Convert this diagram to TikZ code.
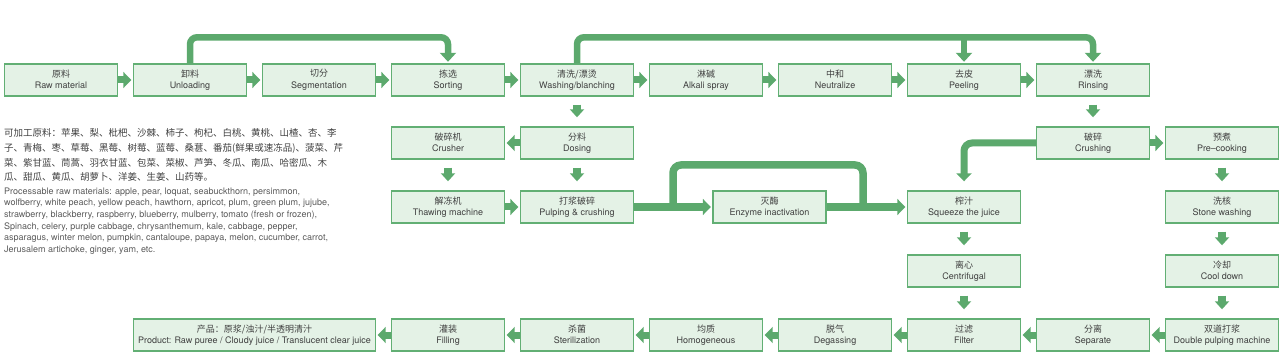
\documentclass[tikz,border=0pt]{standalone}
\usepackage{fontspec}
\setmainfont{TeX Gyre Heros}
\newfontfamily\cjk{Noto Sans CJK SC}
\usetikzlibrary{arrows.meta}
\definecolor{boxfill}{HTML}{E4F2E6}
\definecolor{boxline}{HTML}{62AF74}
\definecolor{arrowgreen}{HTML}{5CA96D}
\definecolor{txtdark}{HTML}{404040}
\definecolor{txtgray}{HTML}{5A5A5A}
\newcommand{\bx}[2]{{\cjk #1}\\{#2\vphantom{gh}}}
\tikzset{
  stepbox/.style={draw=boxline, fill=boxfill, line width=1.4pt, minimum width=113pt, minimum height=32pt,
    inner sep=0pt, align=center, text=txtdark, font=\fontsize{9}{11.5}\selectfont},
  rarrow/.style={draw=arrowgreen, line width=7pt, -{Triangle[width=16pt,length=8pt]}, shorten >=1.5pt},
  darrow/.style={draw=arrowgreen, line width=7.5pt, -{Triangle[width=14pt,length=8pt]}, shorten <=8pt, shorten >=9pt},
  topconn/.style={draw=arrowgreen, line width=6.5pt, rounded corners=7pt, -{Triangle[width=16pt,length=9pt]}},
  pipe/.style={draw=arrowgreen, line width=7.5pt},
  paracn/.style={anchor=base west, inner sep=0pt, text=txtdark, font=\cjk\fontsize{9.5}{12}\selectfont},
  paraen/.style={anchor=base west, inner sep=0pt, text=txtgray, font=\fontsize{9}{11}\selectfont},
}
\begin{document}
\begin{tikzpicture}[x=1pt,y=-1pt]
\path[use as bounding box] (0,0) rectangle (1284,355);
% row 1
\node[stepbox] (raw) at (61,80) {\bx{原料}{Raw material}};
\node[stepbox] (unload) at (190,80) {\bx{卸料}{Unloading}};
\node[stepbox] (seg) at (319,80) {\bx{切分}{Segmentation}};
\node[stepbox] (sort) at (448,80) {\bx{拣选}{Sorting}};
\node[stepbox] (wash) at (577,80) {\bx{清洗/漂烫}{Washing/blanching}};
\node[stepbox] (alkali) at (706,80) {\bx{淋碱}{Alkali spray}};
\node[stepbox] (neut) at (835,80) {\bx{中和}{Neutralize}};
\node[stepbox] (peel) at (964,80) {\bx{去皮}{Peeling}};
\node[stepbox] (rinse) at (1093,80) {\bx{漂洗}{Rinsing}};
% row 2
\node[stepbox] (crusher) at (448,143) {\bx{破碎机}{Crusher}};
\node[stepbox] (dosing) at (577,143) {\bx{分料}{Dosing}};
\node[stepbox] (crushing) at (1093,143) {\bx{破碎}{Crushing}};
\node[stepbox] (precook) at (1222,143) {\bx{预煮}{Pre–cooking}};
% row 3
\node[stepbox] (thaw) at (448,207) {\bx{解冻机}{Thawing machine}};
\node[stepbox] (pulp) at (577,207) {\bx{打浆破碎}{Pulping \& crushing}};
\node[stepbox] (enz) at (769.5,207) {\bx{灭酶}{Enzyme inactivation}};
\node[stepbox] (squeeze) at (964,207) {\bx{榨汁}{Squeeze the juice}};
\node[stepbox] (stone) at (1222,207) {\bx{洗核}{Stone washing}};
% row 4
\node[stepbox] (centri) at (964,271) {\bx{离心}{Centrifugal}};
\node[stepbox] (cool) at (1222,271) {\bx{冷却}{Cool down}};
% row 5
\node[stepbox, minimum width=242pt] (product) at (254.5,335) {\bx{产品：原浆/浊汁/半透明清汁}{Product: Raw puree / Cloudy juice / Translucent clear juice}};
\node[stepbox] (fill) at (448,335) {\bx{灌装}{Filling}};
\node[stepbox] (steril) at (577,335) {\bx{杀菌}{Sterilization}};
\node[stepbox] (homo) at (706,335) {\bx{均质}{Homogeneous}};
\node[stepbox] (degas) at (835,335) {\bx{脱气}{Degassing}};
\node[stepbox] (filter) at (964,335) {\bx{过滤}{Filter}};
\node[stepbox] (separate) at (1093,335) {\bx{分离}{Separate}};
\node[stepbox] (double) at (1222,335) {\bx{双道打浆}{Double pulping machine}};

% row 1 arrows
\draw[rarrow] (raw.east) -- (unload.west);
\draw[rarrow] (unload.east) -- (seg.west);
\draw[rarrow] (seg.east) -- (sort.west);
\draw[rarrow] (sort.east) -- (wash.west);
\draw[rarrow] (wash.east) -- (alkali.west);
\draw[rarrow] (alkali.east) -- (neut.west);
\draw[rarrow] (neut.east) -- (peel.west);
\draw[rarrow] (peel.east) -- (rinse.west);
% top bypasses
\draw[topconn] (unload.north) -- ++(0,-26) -| ([yshift=1.5pt]sort.north);
\draw[topconn] (wash.north) -- ++(0,-26) -| ([yshift=1.5pt]rinse.north);
\draw[topconn] ([yshift=26pt]peel.north) -- ([yshift=1.5pt]peel.north);
% left branch
\draw[darrow] (wash.south) -- (dosing.north);
\draw[rarrow] (dosing.west) -- (crusher.east);
\draw[darrow] (crusher.south) -- (thaw.north);
\draw[darrow] (dosing.south) -- (pulp.north);
\draw[rarrow] (thaw.east) -- (pulp.west);
\coordinate (b1) at (673,207);
\coordinate (b1t) at (673,165);
\coordinate (b2t) at (863,165);
\coordinate (b2) at (863,207);
\draw[pipe, rounded corners=8pt] (b1) -- (b1t) -- (b2t) -- (b2);
\draw[pipe, -{Triangle[width=16pt,length=8pt]}, shorten >=1.5pt] (pulp.east) -- (enz.west);
\draw[pipe, -{Triangle[width=16pt,length=8pt]}, shorten >=1.5pt] (enz.east) -- (squeeze.west);
% right branch
\draw[darrow] (rinse.south) -- (crushing.north);
\draw[rarrow] (crushing.east) -- (precook.west);
\draw[pipe, line width=7pt, rounded corners=8pt, -{Triangle[width=15pt,length=8pt]}] (crushing.west) -| ([yshift=9pt]squeeze.north);
\draw[darrow] (precook.south) -- (stone.north);
\draw[darrow] (stone.south) -- (cool.north);
\draw[darrow] (cool.south) -- (double.north);
\draw[darrow] (squeeze.south) -- (centri.north);
\draw[darrow] (centri.south) -- (filter.north);
% bottom row (leftwards)
\draw[rarrow] (double.west) -- (separate.east);
\draw[rarrow] (separate.west) -- (filter.east);
\draw[rarrow] (filter.west) -- (degas.east);
\draw[rarrow] (degas.west) -- (homo.east);
\draw[rarrow] (homo.west) -- (steril.east);
\draw[rarrow] (steril.west) -- (fill.east);
\draw[rarrow] (fill.west) -- (product.east);

% description text
\node[paracn] (cn1) at (4,137) {可加工原料：苹果、梨、枇杷、沙棘、柿子、枸杞、白桃、黄桃、山楂、杏、李};
\node[paracn] (cn2) at (4,151.6) {子、青梅、枣、草莓、黑莓、树莓、蓝莓、桑葚、番茄(鲜果或速冻品)、菠菜、芹};
\node[paracn] (cn3) at (4,166.2) {菜、紫甘蓝、茼蒿、羽衣甘蓝、包菜、菜椒、芦笋、冬瓜、南瓜、哈密瓜、木};
\node[paracn] (cn4) at (4,180.8) {瓜、甜瓜、黄瓜、胡萝卜、洋姜、生姜、山药等。};
\node[paraen] (en1) at (4,194.2) {Processable raw materials: apple, pear, loquat, seabuckthorn, persimmon,};
\node[paraen] (en2) at (4,205.9) {wolfberry, white peach, yellow peach, hawthorn, apricot, plum, green plum, jujube,};
\node[paraen] (en3) at (4,217.6) {strawberry, blackberry, raspberry, blueberry, mulberry, tomato (fresh or frozen),};
\node[paraen] (en4) at (4,229.3) {Spinach, celery, purple cabbage, chrysanthemum, kale, cabbage, pepper,};
\node[paraen] (en5) at (4,241.0) {asparagus, winter melon, pumpkin, cantaloupe, papaya, melon, cucumber, carrot,};
\node[paraen] (en6) at (4,252.7) {Jerusalem artichoke, ginger, yam, etc.};
\end{tikzpicture}
\end{document}
